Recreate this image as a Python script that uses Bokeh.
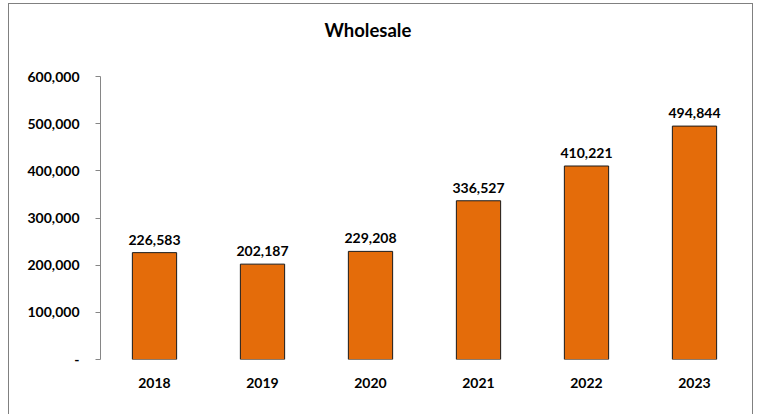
from bokeh.plotting import figure
from bokeh.models import ColumnDataSource, FactorRange, Range1d, LabelSet, Title, CustomJSTickFormatter, FixedTicker
from bokeh.core.properties import value
from bokeh.embed import file_html
from bokeh.resources import INLINE

title_text = "Wholesale"
years = ["2018", "2019", "2020", "2021", "2022", "2023"]
values = [226583, 202187, 229208, 336527, 410221, 494844]
labels = [f"{v:,}" for v in values]
yticks = [0, 100000, 200000, 300000, 400000, 500000, 600000]

FONT = "Lato"
src = ColumnDataSource(dict(x=years, top=values, label=labels))

p = figure(x_range=FactorRange(*years, range_padding=0), y_range=Range1d(0, 600000),
           width=745, height=414, output_backend="svg", toolbar_location=None,
           min_border_left=91, min_border_right=6, min_border_top=0, min_border_bottom=59,
           title=title_text)
p.styles = {"border": "1px solid #808080", "margin-left": "8px", "margin-top": "3px"}
p.title.align = "left"
p.title.offset = 224
p.title.text_font = FONT
p.title.text_font_size = "18.5px"
p.title.text_font_style = "bold"
p.title.text_color = "#000000"
p.title.standoff = 24

# spacer between title and plot area
p.add_layout(Title(text=" ", text_font_size="12px", standoff=8), "above")

p.vbar(x="x", top="top", width=0.41, source=src, fill_color="#E46C0A", line_color="#1a1a1a", line_width=1)
p.add_layout(LabelSet(x="x", y="top", text="label", source=src, text_align="center", text_baseline="alphabetic",
                      y_offset=8, text_font=value(FONT), text_font_size=value("14px"),
                      text_font_style=value("bold"), text_color=value("#000000")))

p.outline_line_color = None
p.xgrid.grid_line_color = None
p.ygrid.grid_line_color = None

p.yaxis.ticker = FixedTicker(ticks=yticks)
p.yaxis.formatter = CustomJSTickFormatter(code="return tick == 0 ? '-' : tick.toLocaleString('en-US');")
p.yaxis.axis_line_color = "#868686"
p.yaxis.major_tick_line_color = "#868686"
p.yaxis.major_tick_out = 5
p.yaxis.major_tick_in = 0
p.yaxis.minor_tick_line_color = None
p.yaxis.major_label_text_font = FONT
p.yaxis.major_label_text_font_size = "14px"
p.yaxis.major_label_text_font_style = "bold"
p.yaxis.major_label_text_color = "#000000"
p.yaxis.major_label_standoff = 16

p.xaxis.axis_line_color = None
p.xaxis.major_tick_line_color = None
p.xaxis.minor_tick_line_color = None
p.xaxis.major_label_text_font = FONT
p.xaxis.major_label_text_font_size = "14px"
p.xaxis.major_label_text_font_style = "bold"
p.xaxis.major_label_text_color = "#000000"
p.xaxis.major_label_standoff = 12

open("out.html", "w").write(file_html(p, INLINE))
